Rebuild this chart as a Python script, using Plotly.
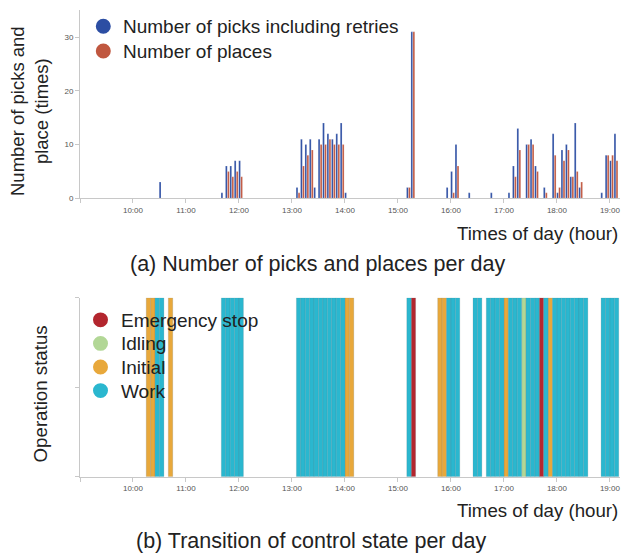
import plotly.graph_objects as go

# ---------------- data ----------------
# (a) 5-minute bins (start time) with counts
bins_top = ["10:30", "11:40", "11:45", "11:50", "11:55", "12:00",
            "13:05", "13:10", "13:15", "13:20", "13:25", "13:30", "13:35", "13:40",
            "13:45", "13:50", "13:55", "14:00",
            "15:10", "15:15", "15:55", "16:00", "16:05", "16:20", "16:45",
            "17:05", "17:10", "17:15", "17:25", "17:30", "17:35", "17:45", "17:55",
            "18:00", "18:05", "18:10", "18:15", "18:20", "18:25",
            "18:50", "18:55", "19:00", "19:05"]
picks = [3, 1, 6, 6, 7, 7,
         2, 11, 10, 11, 2, 11, 14, 12,
         11, 12, 14, 1,
         2, 31, 2, 5, 10, 1, 1,
         1, 6, 13, 10, 11, 6, 2, 12,
         1, 9, 10, 4, 14, 2,
         1, 8, 7, 12]
places = [0, 0, 5, 4, 5, 4,
          1, 6, 8, 9, 0, 10, 10, 11,
          10, 10, 10, 0,
          2, 31, 0, 1, 6, 0, 0,
          0, 4, 9, 10, 10, 5, 1, 8,
          2, 7, 9, 4, 5, 3,
          0, 8, 8, 7]
series_names = ["Number of picks including retries", "Number of places"]

# (b) 5-minute bins (start time) with control state
state_bins = ["10:15", "10:20", "10:25", "10:30", "10:40",
              "11:40", "11:45", "11:50", "11:55", "12:00",
              "13:05", "13:10", "13:15", "13:20", "13:25", "13:30", "13:35", "13:40",
              "13:45", "13:50", "13:55", "14:00", "14:05",
              "15:10", "15:15",
              "15:45", "15:50", "15:55", "16:00", "16:05",
              "16:25", "16:30",
              "16:40", "16:45", "16:50", "16:55", "17:00", "17:05", "17:10", "17:15",
              "17:20", "17:25", "17:30", "17:35", "17:40", "17:45", "17:50", "17:55",
              "18:00", "18:05", "18:10", "18:15", "18:20", "18:25", "18:30",
              "18:50", "18:55", "19:00", "19:05"]
states = ["Initial", "Initial", "Work", "Work", "Initial",
          "Work", "Work", "Work", "Work", "Work",
          "Work", "Work", "Work", "Work", "Work", "Work", "Work", "Work",
          "Work", "Work", "Work", "Initial", "Initial",
          "Work", "Emergency stop",
          "Initial", "Initial", "Work", "Work", "Work",
          "Work", "Work",
          "Work", "Work", "Work", "Work", "Initial", "Work", "Work", "Work",
          "Idling", "Work", "Work", "Work", "Emergency stop", "Work", "Initial", "Work",
          "Work", "Work", "Work", "Work", "Work", "Work", "Work",
          "Work", "Work", "Work", "Work"]
state_order = ["Emergency stop", "Idling", "Initial", "Work"]

hour_ticks = ["9:00", "10:00", "11:00", "12:00", "13:00", "14:00", "15:00",
              "16:00", "17:00", "18:00", "19:00"]
hour_labels = ["", "10:00", "11:00", "12:00", "13:00", "14:00", "15:00",
               "16:00", "17:00", "18:00", "19:00"]
count_ticks = [0, 10, 20, 30]

# ---------------- styles ----------------
BLUE = "#2c4ea3"
RED = "#c0573f"
SERIES_COLORS = [BLUE, RED]
STATE_COLORS = {"Emergency stop": "#b3262e", "Idling": "#b2d796",
                "Initial": "#e8a83b", "Work": "#2ab7cf"}
FONT = "Liberation Sans, Arial, Helvetica, sans-serif"
TXT = "#222222"
AX = "#c8c8c8"
TICKFONT = dict(family=FONT, size=8, color="#555555")

W, H = 622, 559
ML, MR, MT, MB = 80, 2, 0, 0
PW, PH = W - ML - MR, H - MT - MB


def hx(s):
    h, m = s.split(":")
    return int(h) + int(m) / 60.0


def px_x(p):
    return (p - ML) / PW


def px_y(p):
    return 1 - (p - MT) / PH


BIN = 5 / 60.0

fig = go.Figure()

# (a) bars
xt = [hx(b) for b in bins_top]
for vals, off, col, nm in [(picks, -0.06, BLUE, series_names[0]),
                           (places, 0.40, RED, series_names[1])]:
    fig.add_trace(go.Bar(x=xt, y=vals, width=0.4 * BIN, offset=off * BIN,
                         marker=dict(color=col, line=dict(width=0.4, color="rgba(255,255,255,0.5)")),
                         xaxis="x", yaxis="y", showlegend=False, name=nm))

# (b) bars
for st in state_order:
    xs = [hx(b) for b, s in zip(state_bins, states) if s == st]
    fig.add_trace(go.Bar(x=xs, y=[1] * len(xs), width=BIN, offset=0,
                         marker=dict(color=STATE_COLORS[st],
                                     line=dict(width=0.6, color="rgba(90,110,120,0.3)")),
                         xaxis="x2", yaxis="y2", showlegend=False, name=st))

shapes = []
annotations = []
R = 7.5


def legend_item(cx, cy, tx, text, color):
    shapes.append(dict(type="circle", xref="paper", yref="paper",
                       x0=px_x(cx - R), x1=px_x(cx + R), y0=px_y(cy + R), y1=px_y(cy - R),
                       fillcolor=color, line=dict(width=0)))
    annotations.append(dict(text=text, x=px_x(tx), y=px_y(cy + 0.5), xref="paper", yref="paper",
                            xanchor="left", yanchor="middle", showarrow=False,
                            font=dict(family=FONT, size=19, color=TXT)))


for i, (nm, col) in enumerate(zip(series_names, SERIES_COLORS)):
    legend_item(103.3, 26.5 + 25 * i, 121, nm, col)
for i, st in enumerate(state_order):
    legend_item(100.5, 322.7 + 23.8 * i, 118.5, st, STATE_COLORS[st])


def ann(text, x, y, size, angle=0, xanchor="center"):
    annotations.append(dict(text=text, x=px_x(x), y=px_y(y), xref="paper", yref="paper",
                            xanchor=xanchor, yanchor="middle", showarrow=False,
                            textangle=angle, font=dict(family=FONT, size=size, color=TXT)))


ann("Number of picks and<br>place (times)", 30, 112, 18.5, angle=-90)
ann("Times of day (hour)", 620, 236, 18.7, xanchor="right")
ann("(a) Number of picks and places per day", 317.5, 266, 21.5)
ann("Operation status", 40, 398, 18.7, angle=-90)
ann("Times of day (hour)", 620, 515, 18.7, xanchor="right")
ann("(b) Transition of control state per day", 311, 546, 21.5)

xcommon = dict(range=[9, 19.19], tickvals=[hx(t) for t in hour_ticks], ticktext=hour_labels,
               ticks="outside", ticklen=4, tickcolor=AX, showline=True, linecolor=AX,
               linewidth=1, showgrid=False, zeroline=False, tickfont=TICKFONT,
               domain=[0, 1], fixedrange=True)

fig.update_layout(
    width=W, height=H,
    margin=dict(l=ML, r=MR, t=MT, b=MB),
    paper_bgcolor="white", plot_bgcolor="white",
    barmode="overlay",
    showlegend=False,
    font=dict(family=FONT, color=TXT),
    xaxis=dict(anchor="y", **xcommon),
    yaxis=dict(anchor="x", domain=[px_y(200), px_y(10.5)], range=[0, 35],
               tickvals=count_ticks, ticks="outside", ticklen=4, tickcolor=AX,
               showline=True, linecolor=AX, showgrid=False, zeroline=False,
               tickfont=TICKFONT, fixedrange=True),
    xaxis2=dict(anchor="y2", **xcommon),
    yaxis2=dict(anchor="x2", domain=[px_y(481), px_y(300.5)], range=[0, 1],
                tickvals=[0, 0.5, 1], ticks="outside", ticklen=4, tickcolor=AX,
                showline=True, linecolor=AX, showgrid=False, zeroline=False,
                showticklabels=False, fixedrange=True),
    shapes=shapes,
    annotations=annotations,
)

fig.write_html("out.html", config={"displayModeBar": False},
               post_script="document.body.style.margin='0px';"
                           "document.body.style.overflow='hidden';")
